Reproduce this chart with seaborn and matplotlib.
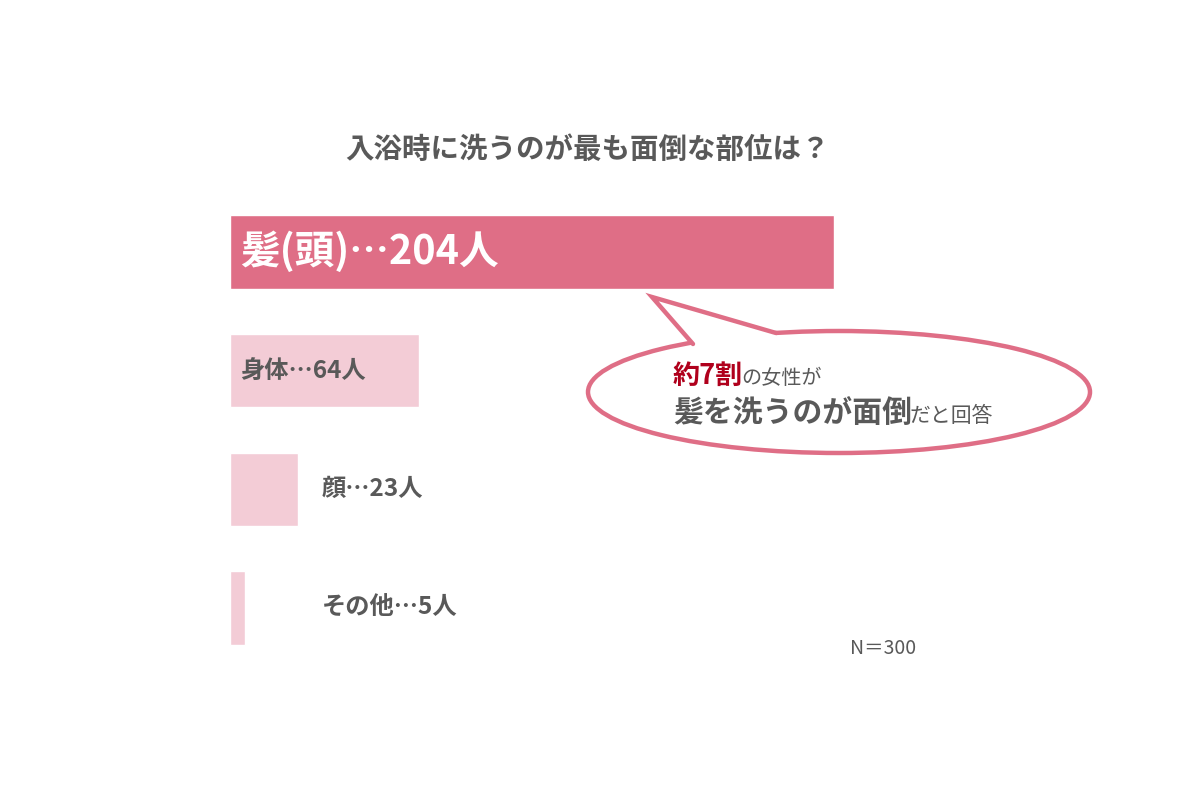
import matplotlib
matplotlib.use("Agg")
import matplotlib.pyplot as plt
from matplotlib.patches import Ellipse, Polygon
import seaborn as sns
import pandas as pd

# ------------------------------------------------------
# data
# ------------------------------------------------------
parts = ["髪(頭)", "身体", "顔", "その他"]
counts = [204, 64, 23, 5]
total_n = 300

title = "入浴時に洗うのが最も面倒な部位は？"

sns.set_theme(style = "white")
plt.rcParams["font.family"] = ["Noto Sans CJK JP", "DejaVu Sans"]

dark_pink = "#df6e86"
light_pink = "#f3ccd6"
gray = "#595959"
deep_red = "#b0001c"

df = pd.DataFrame({"part": parts, "count": counts})
df["label"] = [f"{p}…{c}人" for p, c in zip(parts, counts)]

fig = plt.figure(figsize = (12, 8), dpi = 100)
W, H = 1200, 800

# bar axes in pixel terms: left 230, rows from y=192.6 to 667.4
px_per_unit = 604 / 204
ax = fig.add_axes([230 / W, (H - 667.4) / H, 900 / W, 474.8 / H])
sns.barplot(data = df, x = "count", y = "part", hue = "part", orient = "h",
            palette = [dark_pink, light_pink, light_pink, light_pink],
            width = 0.62, legend = False, ax = ax, saturation = 1)
ax.set_xlim(0, 900 / px_per_unit)
ax.set_ylim(3.5, -0.5)
ax.axis("off")

# bar labels
for i, row in df.iterrows():
    if i == 0:
        ax.annotate(row["label"], xy = (0, i), xytext = (7, 0), textcoords = "offset points",
                    va = "center", ha = "left", color = "white", fontsize = 28.5, fontweight = "bold")
    elif row["count"] > 50:
        ax.annotate(row["label"], xy = (0, i), xytext = (7, 0), textcoords = "offset points",
                    va = "center", ha = "left", color = gray, fontsize = 17.5, fontweight = "bold")
    else:
        ax.annotate(row["label"], xy = (0, i), xytext = (66, 0), textcoords = "offset points",
                    va = "center", ha = "left", color = gray, fontsize = 17.5, fontweight = "bold")

# overlay axes in pixel coordinates (y down)
ov = fig.add_axes([0, 0, 1, 1], zorder = 5)
ov.set_xlim(0, W)
ov.set_ylim(H, 0)
ov.axis("off")
ov.patch.set_alpha(0)

ov.text(588, 150, title, ha = "center", va = "center", fontsize = 20.5,
        fontweight = "bold", color = gray)
ov.text(883, 648, f"N＝{total_n}", ha = "center", va = "center", fontsize = 14, color = gray)

# speech bubble
ov.add_patch(Ellipse((839, 392), 502, 122, facecolor = "white", edgecolor = dark_pink, lw = 3.2))
tip = (652, 297)
b1 = (693, 344)
b2 = (776, 333)
ov.add_patch(Polygon([b1, tip, b2, (776, 340), (693, 352)], closed = True,
                     facecolor = "white", edgecolor = "none", zorder = 3))
ov.plot([b1[0], tip[0], b2[0]], [b1[1], tip[1], b2[1]], color = dark_pink, lw = 3.2,
        solid_joinstyle = "miter", zorder = 4)

# bubble text, pieces chained left to right
fig.canvas.draw()
renderer = fig.canvas.get_renderer()


def chain(pieces, x0, y0):
    x = x0
    for txt, size, weight, color in pieces:
        t = ov.text(x, y0, txt, ha = "left", va = "baseline", fontsize = size,
                    fontweight = weight, color = color, zorder = 6)
        bb = t.get_window_extent(renderer = renderer)
        x += bb.width - 2


chain([("約7割", 19.5, "bold", deep_red), ("の女性が", 14.5, "normal", gray)], 673, 384)
chain([("髪を洗うのが面倒", 21.5, "bold", gray), ("だと回答", 15, "normal", gray)], 673, 422)

fig.savefig("out.png", dpi = 100, facecolor = "white")
